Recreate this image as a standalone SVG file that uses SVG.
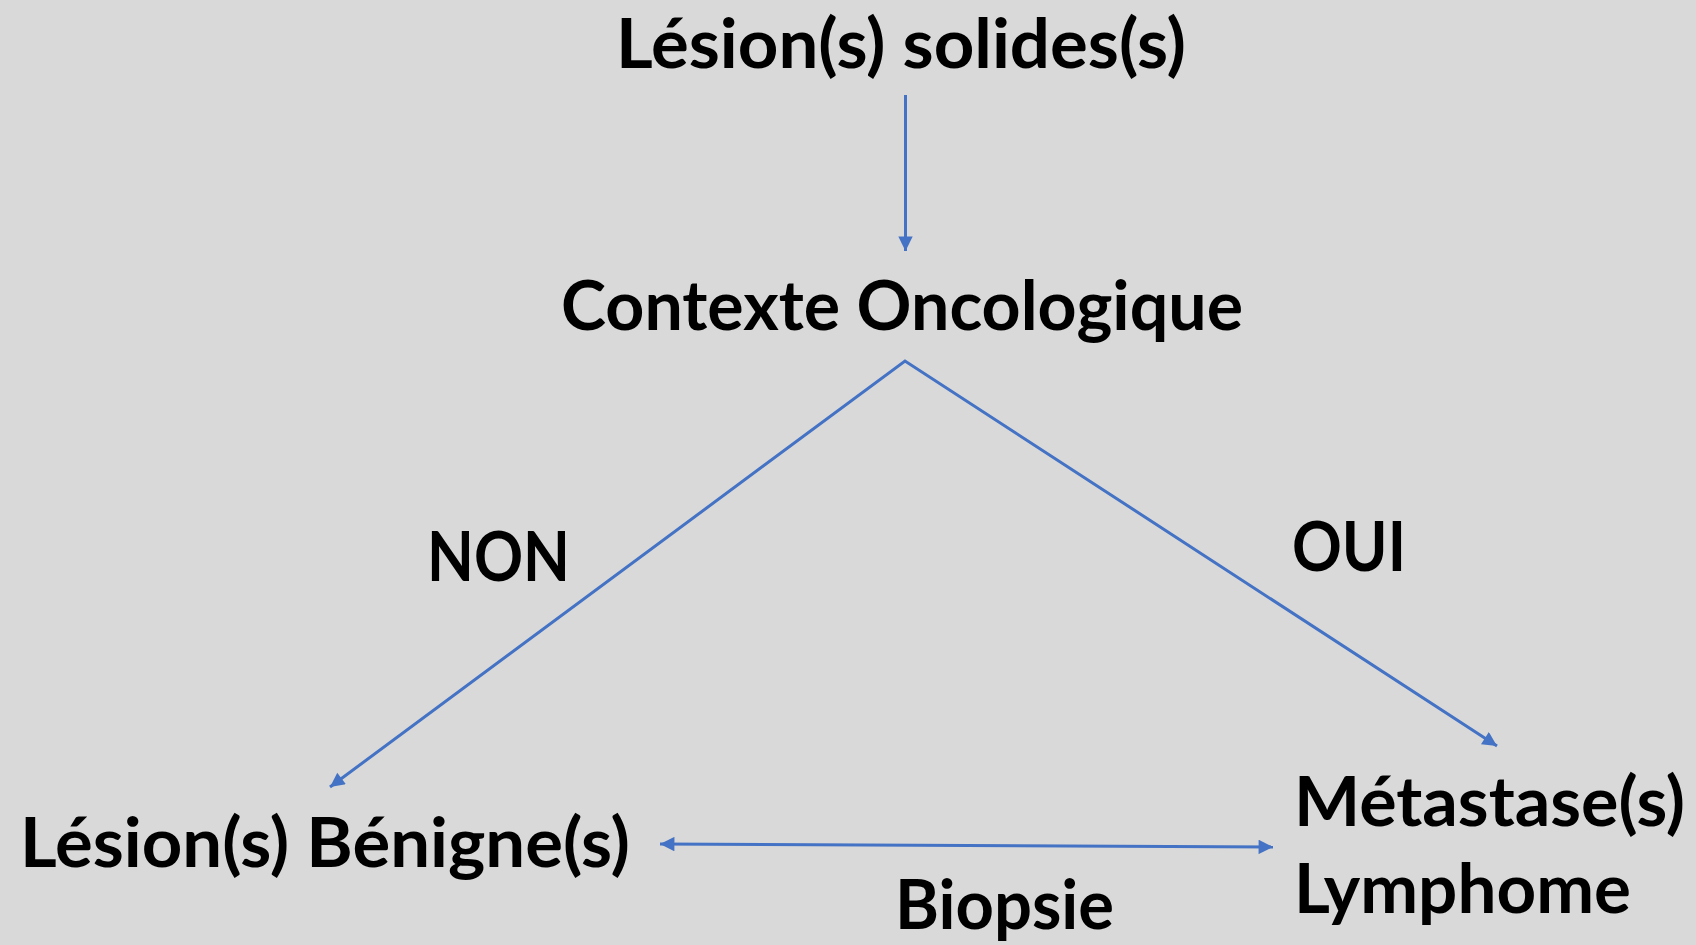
<svg xmlns="http://www.w3.org/2000/svg" width="1696" height="945" viewBox="0 0 1696 945">
<style>
.t{font-family:Lato,"Open Sans","Liberation Sans",sans-serif;font-weight:bold;font-size:69px;fill:#000}
.c{stroke:#4472C4;stroke-width:3;fill:none}
</style>
<defs>
<marker id="ah" viewBox="0 0 10 10" refX="10" refY="5" markerWidth="5.2" markerHeight="4.8" markerUnits="strokeWidth" orient="auto-start-reverse">
<path d="M0,0 L10,5 L0,10 z" fill="#4472C4"/>
</marker>
</defs>
<rect width="1696" height="945" fill="#D9D9D9"/>
<g id="connectors">
<line class="c" x1="905.5" y1="95" x2="905.5" y2="251" marker-end="url(#ah)"/>
<polyline class="c" points="330,787 905,361 1497,746" marker-start="url(#ah)" marker-end="url(#ah)"/>
<line class="c" x1="660" y1="844" x2="1273" y2="847" marker-start="url(#ah)" marker-end="url(#ah)"/>
</g>
<g id="n-lesions-solides"><text class="t" x="616" y="68" textLength="570" lengthAdjust="spacingAndGlyphs">Lésion(s) solides(s)</text></g>
<g id="n-contexte"><text class="t" x="561" y="330" textLength="682" lengthAdjust="spacingAndGlyphs">Contexte Oncologique</text></g>
<g id="l-non"><text class="t" x="427" y="581" textLength="143" lengthAdjust="spacingAndGlyphs">NON</text></g>
<g id="l-oui"><text class="t" x="1292" y="571" textLength="114" lengthAdjust="spacingAndGlyphs">OUI</text></g>
<g id="n-benignes"><text class="t" x="20" y="867" textLength="610" lengthAdjust="spacingAndGlyphs">Lésion(s) Bénigne(s)</text></g>
<g id="n-metastases"><text class="t" x="1294" y="826" textLength="391" lengthAdjust="spacingAndGlyphs">Métastase(s)</text><text class="t" x="1294" y="913" textLength="337" lengthAdjust="spacingAndGlyphs">Lymphome</text></g>
<g id="l-biopsie"><text class="t" x="895" y="929" textLength="219" lengthAdjust="spacingAndGlyphs">Biopsie</text></g>
</svg>
